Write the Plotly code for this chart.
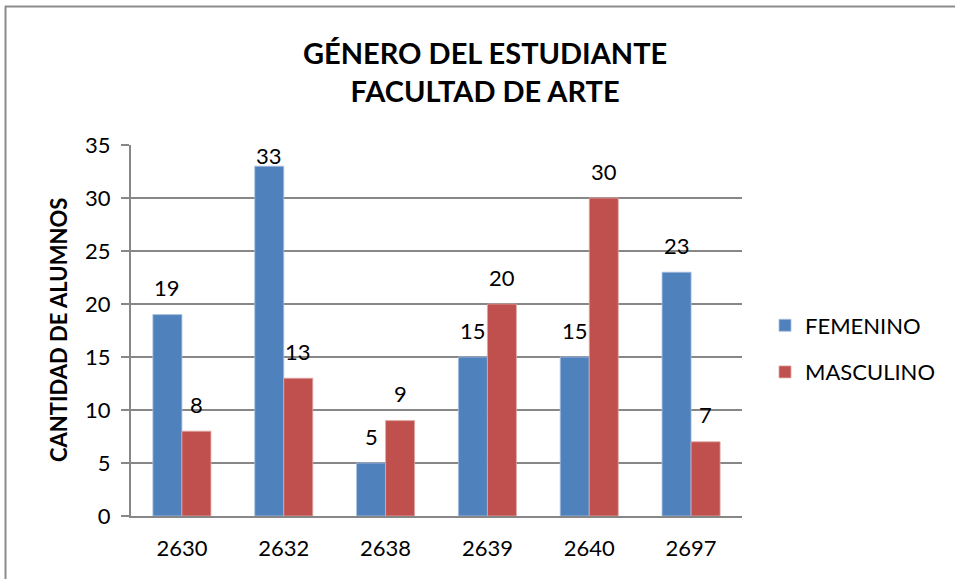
import plotly.graph_objects as go

categories = ["2630", "2632", "2638", "2639", "2640", "2697"]
femenino = [19, 33, 5, 15, 15, 23]
masculino = [8, 13, 9, 20, 30, 7]
y_ticks = [0, 5, 10, 15, 20, 25, 30, 35]

W, H = 955, 579
# target plot area on the page: x 131..742, y 145..516
ML, MT = 131, 145
MR = W - 742
MB = H - 516
PW, PH = W - ML - MR, H - MT - MB
YMAX = 35
px_per_unit = PH / YMAX


def px_x(page_x):
    return (page_x - ML) / PW


def px_y(page_y):
    return (H - MB - page_y) / PH


FONT = "Lato, Calibri, Carlito, sans-serif"
BLUE = "#4F81BD"
RED = "#C0504D"
GRID = "#878787"

fig = go.Figure()
fig.add_trace(go.Bar(name="FEMENINO", x=categories, y=femenino,
                     marker=dict(color=BLUE, line=dict(color="#a9c0e0", width=0.8)),
                     legendgroup="f"))
fig.add_trace(go.Bar(name="MASCULINO", x=categories, y=masculino,
                     marker=dict(color=RED, line=dict(color="#e0a8a6", width=0.8)),
                     legendgroup="m"))

bargap = 0.43
bar_w = (1 - bargap) / 2
label_off = 27 / px_per_unit
label_max = YMAX - 10 / px_per_unit
annotations = []
for series, dx in ((femenino, -bar_w / 2), (masculino, bar_w / 2)):
    for i, v in enumerate(series):
        annotations.append(dict(
            x=i + dx, y=min(v + label_off, label_max), xref="x", yref="y",
            text=str(v), showarrow=False, yanchor="middle", xanchor="center",
            font=dict(family=FONT, size=22, color="#000000")))

# title
annotations.append(dict(
    x=px_x(485), y=px_y(71), xref="paper", yref="paper",
    text="<b>GÉNERO DEL ESTUDIANTE</b><br><b>FACULTAD DE ARTE</b>",
    showarrow=False, xanchor="center", yanchor="middle", align="center",
    font=dict(family=FONT, size=29, color="#000000")))

# y-axis title
annotations.append(dict(
    x=px_x(58), y=px_y(330), xref="paper", yref="paper",
    text="<b>CANTIDAD DE ALUMNOS</b>", textangle=-90,
    showarrow=False, xanchor="center", yanchor="middle",
    font=dict(family=FONT, size=22, color="#000000")))

# outer chart border (top and left visible)
shapes = [
    dict(type="line", xref="paper", yref="paper",
         x0=px_x(5), x1=px_x(1000), y0=px_y(6.5), y1=px_y(6.5),
         line=dict(color="#8c8c8c", width=2), layer="below"),
    dict(type="line", xref="paper", yref="paper",
         x0=px_x(5.5), x1=px_x(5.5), y0=px_y(6), y1=px_y(650),
         line=dict(color="#8c8c8c", width=2), layer="below"),
]

fig.update_layout(
    width=W, height=H,
    margin=dict(l=ML, r=MR, t=MT, b=MB),
    paper_bgcolor="white", plot_bgcolor="white",
    barmode="group", bargap=bargap, bargroupgap=0,
    font=dict(family=FONT, size=22, color="#000000"),
    showlegend=True,
    legend=dict(x=px_x(765), y=px_y(349), xanchor="left", yanchor="middle",
                traceorder="grouped", tracegroupgap=15,
                font=dict(family=FONT, size=22, color="#000000"),
                bgcolor="rgba(0,0,0,0)", itemwidth=30),
    annotations=annotations,
    shapes=shapes,
    xaxis=dict(type="category", showgrid=False, showline=True, linecolor=GRID, linewidth=2,
               ticks="", tickfont=dict(family=FONT, size=22), ticklabelstandoff=12,
               fixedrange=True),
    yaxis=dict(range=[0, YMAX], tickvals=y_ticks, showgrid=True, gridcolor=GRID, gridwidth=1.5,
               showline=True, linecolor=GRID, linewidth=2, ticks="outside", ticklen=8,
               tickcolor=GRID, tickwidth=1.5, zeroline=False,
               tickfont=dict(family=FONT, size=22), ticklabelstandoff=6,
               fixedrange=True),
)

fig.write_html("out.html", config={"displayModeBar": False},
               post_script="document.body.style.margin='0';document.body.style.overflow='hidden';")
